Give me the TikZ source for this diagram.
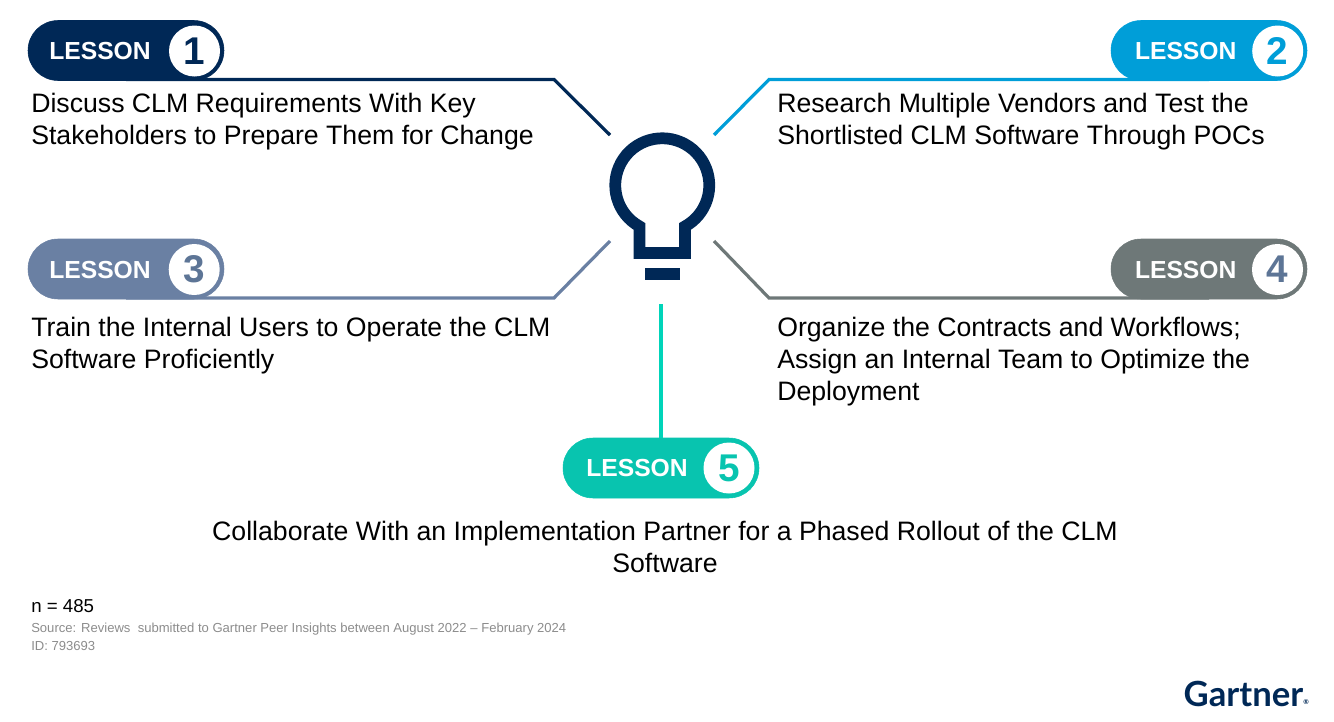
\documentclass[tikz,border=0pt]{standalone}
\usepackage{fontspec}
\setmainfont{Liberation Sans}
\newfontfamily\logofont{Lato}
\usetikzlibrary{shapes.misc, positioning}
\definecolor{GartnerNavy}{RGB}{0, 40, 86}
\definecolor{GartnerSky}{RGB}{0, 158, 216}
\definecolor{GartnerSlate}{RGB}{106, 128, 163}
\definecolor{GartnerSteel}{RGB}{93, 117, 150}
\definecolor{GartnerGrey}{RGB}{110, 120, 120}
\definecolor{GartnerTeal}{RGB}{8, 196, 175}
\definecolor{GartnerMint}{RGB}{0, 212, 185}
\definecolor{FootGrey}{RGB}{140, 140, 140}

\begin{document}
\begin{tikzpicture}[
    x=0.75pt, y=-0.75pt,
    % Define styles for the elements
    lesson pill/.style={
        rounded rectangle,
        fill=#1,
        draw=#1,
        inner sep=0pt,
        minimum width=147pt,
        minimum height=45pt
    },
    lesson word/.style={
        font=\fontsize{18.5}{22}\selectfont\bfseries,
        text=white,
        inner sep=0pt
    },
    lesson disc/.style={
        circle,
        fill=white,
        text=#1,
        inner sep=0pt,
        minimum size=38.25pt,
        font=\fontsize{29}{33}\selectfont\bfseries
    },
    lesson ray/.style={
        draw=#1,
        line width=2.4pt
    },
    body text/.style={
        font=\fontsize{20}{23.8}\selectfont,
        inner sep=0pt,
        align=left,
        anchor=north west
    },
    bulb part/.style={
        draw=GartnerNavy,
        line width=8.8pt,
        miter limit=10
    }
]

    % --- Background ---
    \path[use as bounding box] (0,0) rectangle (1334,721);

    % --- Bulb ---
    \draw[bulb part] (639.5,226.4) arc[start angle=118.97, end angle=421.03, radius=47]
        -- (685,253) -- (639.5,253) -- cycle;
    \fill[GartnerNavy] (645,268) rectangle (680,280);

    % --- Lesson 1 ---
    \node[lesson pill=GartnerNavy] (pill1) at (126,50.5) {};
    \node[lesson disc=GartnerNavy] (disc1) at (194.5,51) {1};
    \node[lesson word] (word1) at (100,51) {LESSON};
    \node[body text] (text1) at (31,93) {Discuss CLM Requirements With Key\\Stakeholders to Prepare Them for Change};
    \coordinate (bend1) at (554,79.5);
    \coordinate (ray1) at (610,135);
    \draw[lesson ray=GartnerNavy] (pill1.center |- bend1) -- (bend1) -- (ray1);

    % --- Lesson 2 ---
    \node[lesson pill=GartnerSky] (pill2) at (1209,50.5) {};
    \node[lesson disc=GartnerSky] (disc2) at (1277.7,51) {2};
    \node[lesson word] (word2) at (1185.7,51) {LESSON};
    \node[body text] (text2) at (777,93) {Research Multiple Vendors and Test the\\Shortlisted CLM Software Through POCs};
    \coordinate (bend2) at (769,79.5);
    \coordinate (ray2) at (714,135);
    \draw[lesson ray=GartnerSky] (pill2.center |- bend2) -- (bend2) -- (ray2);

    % --- Lesson 3 ---
    \node[lesson pill=GartnerSlate] (pill3) at (126,269) {};
    \node[lesson disc=GartnerSteel] (disc3) at (194.2,269.5) {3};
    \node[lesson word] (word3) at (100,270) {LESSON};
    \node[body text] (text3) at (31,317) {Train the Internal Users to Operate the CLM\\Software Proficiently};
    \coordinate (bend3) at (554,298);
    \coordinate (ray3) at (610,241);
    \draw[lesson ray=GartnerSlate] (pill3.center |- bend3) -- (bend3) -- (ray3);

    % --- Lesson 4 ---
    \node[lesson pill=GartnerGrey] (pill4) at (1209,269) {};
    \node[lesson disc=GartnerSteel] (disc4) at (1277.5,269.5) {4};
    \node[lesson word] (word4) at (1185.7,270) {LESSON};
    \node[body text] (text4) at (777,317) {Organize the Contracts and Workflows;\\Assign an Internal Team to Optimize the\\Deployment};
    \coordinate (bend4) at (769,298);
    \coordinate (ray4) at (714,241);
    \draw[lesson ray=GartnerGrey] (pill4.center |- bend4) -- (bend4) -- (ray4);

    % --- Lesson 5 ---
    \node[lesson pill=GartnerTeal] (pill5) at (661,468) {};
    \node[lesson disc=GartnerTeal] (disc5) at (729,468) {5};
    \node[lesson word] (word5) at (637,468.5) {LESSON};
    \node[body text, align=center, anchor=north] (text5) at (665,521) {Collaborate With an Implementation Partner for a Phased Rollout of the CLM\\Software};
    \coordinate (ray5) at (661,304);
    \draw[lesson ray=GartnerMint] (pill5.north) -- (ray5);

    % --- Footer ---
    \node[anchor=west, inner sep=0pt, font=\fontsize{14}{16}\selectfont] (count) at (31,606) {n = 485};
    \node[anchor=north west, inner sep=0pt, align=left, text=FootGrey, font=\fontsize{9.8}{13.5}\selectfont] (source) at (31,623) {Source: Reviews\ \ submitted to Gartner Peer Insights between August 2022 -- February 2024\\ID: 793693};
    \node[anchor=east, inner sep=0pt, text=GartnerNavy, font=\fontsize{26}{30}\selectfont\logofont\bfseries] (logo) at (1309,694) {Gartner\raisebox{0.1ex}{\fontsize{5}{6}\selectfont\textregistered}};

\end{tikzpicture}
\end{document}
